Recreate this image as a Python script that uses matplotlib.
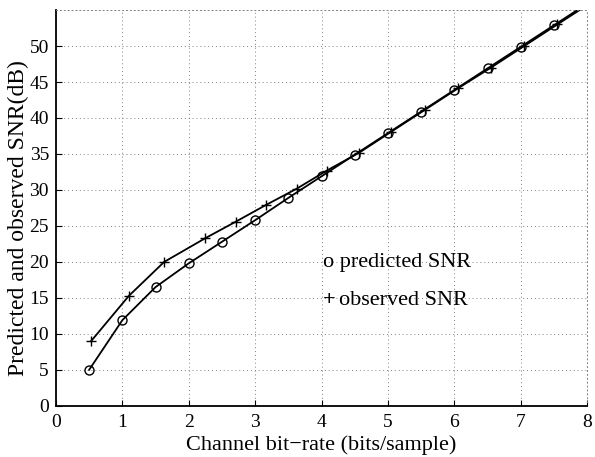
import numpy as np
import matplotlib
matplotlib.use('Agg')
import matplotlib.pyplot as plt

# predicted SNR (circles)
x_pred = np.array([0.5, 1.0, 1.5, 2.0, 2.5, 3.0, 3.5, 4.0, 4.5, 5.0, 5.5, 6.0, 6.5, 7.0, 7.5, 8.0])
y_pred = np.array([5.0, 11.9, 16.5, 19.8, 22.8, 25.8, 28.9, 31.9, 34.9, 37.9, 40.9, 43.9, 46.9, 49.9, 52.9, 55.9])

# observed SNR (plus)
x_obs = np.array([0.53, 1.1, 1.63, 2.25, 2.71, 3.16, 3.63, 4.08, 4.57, 5.05, 5.55, 6.05, 6.55, 7.05, 7.55, 8.0])
y_obs = np.array([9.0, 15.3, 20.0, 23.3, 25.6, 27.9, 30.2, 32.7, 35.2, 38.1, 41.1, 44.1, 47.0, 50.0, 53.0, 55.7])

x_ticks = np.arange(0, 9, 1)
y_ticks = np.arange(0, 55, 5)

plt.rcParams['font.family'] = ['Liberation Serif', 'DejaVu Serif']

fig = plt.figure(figsize=(5.95, 4.57), dpi=100)
ax = fig.add_axes([0.094, 0.112, 0.893, 0.866])

ax.plot(x_pred, y_pred, color='black', lw=1.3, marker='o', ms=6.5,
        mfc='none', mec='black', mew=1.0, markevery=range(len(x_pred) - 1))
ax.plot(x_obs, y_obs, color='black', lw=1.3, marker='+', ms=7,
        mew=1.0, markevery=range(len(x_obs) - 1))

ax.set_xlim(0, 8)
ax.set_ylim(0, 55)
ax.set_xticks(x_ticks)
ax.set_yticks(y_ticks)
ax.tick_params(direction='in', length=4, labelsize=14)
ax.tick_params(axis='x', pad=6)
ax.tick_params(axis='y', pad=5)

ax.grid(True, linestyle=(0, (1, 3)), color='gray', lw=0.7)
for s in ['top', 'right']:
    ax.spines[s].set_linestyle((0, (1, 3)))
    ax.spines[s].set_linewidth(0.7)
    ax.spines[s].set_color('gray')
for s in ['left', 'bottom']:
    ax.spines[s].set_linewidth(1.3)

ax.text(4.02, 19.9, 'o predicted SNR', fontsize=16, va='center', ha='left')
ax.text(4.02, 14.7, '+', fontsize=16, fontweight='bold', va='center', ha='left')
ax.text(4.26, 14.7, 'observed SNR', fontsize=16, va='center', ha='left')

ax.set_xlabel('Channel bit\u2212rate (bits/sample)', fontsize=16, labelpad=3)
ax.set_ylabel('Predicted and observed SNR(dB)', fontsize=17)
ax.yaxis.set_label_coords(-0.051, 0.475)

fig.savefig('out.png', dpi=100)
